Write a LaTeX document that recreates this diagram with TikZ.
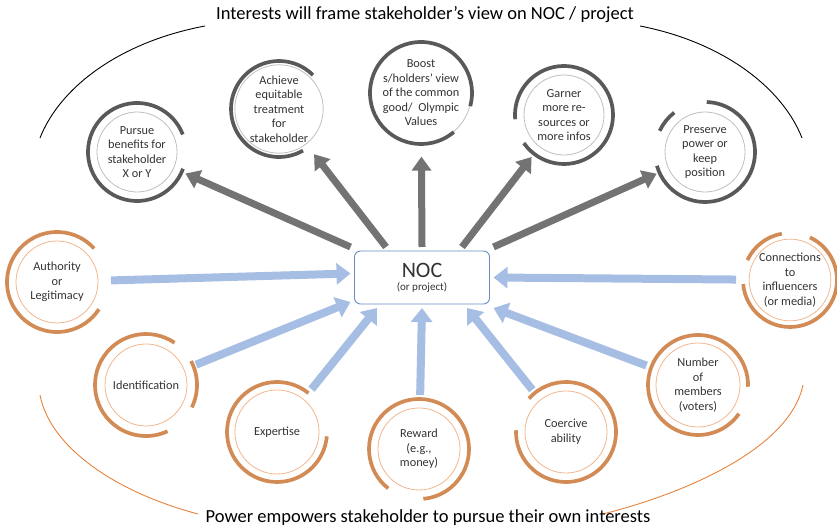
\documentclass[tikz,border=0pt]{standalone}
\usepackage{fontspec}
\setmainfont{Carlito}
\usetikzlibrary{arrows.meta,calc}
\definecolor{gdark}{HTML}{595959}
\definecolor{glight}{HTML}{BFBFBF}
\definecolor{garrowc}{HTML}{737373}
\definecolor{odark}{HTML}{D38B55}
\definecolor{olight}{HTML}{F2B58C}
\definecolor{barrowc}{HTML}{A6BEE3}
\definecolor{nocborder}{HTML}{6A8AC4}
\definecolor{txt}{HTML}{333333}
\definecolor{bigorange}{HTML}{E8823A}
\newcommand\myring[5]{\draw[#1] ($(#2)+(#3:#5)$) arc[start angle=#3, end angle=#4, radius=#5];}
\begin{document}
\begin{tikzpicture}[x=1pt,y=1pt,
  circtext/.style={circle, inner sep=0pt, outer sep=13pt, align=center, text=txt, font=\fontsize{12.3}{14.5}\selectfont, line width=0.8pt},
  gcirc/.style={circtext, draw=glight},
  ocirc/.style={circtext, draw=olight},
  gring/.style={draw=gdark, line width=3.7pt},
  oring/.style={draw=odark, line width=3.7pt},
  garrow/.style={draw=garrowc, line width=7pt, -{Triangle[width=19pt,length=14pt]}},
  barrow/.style={draw=barrowc, line width=8pt, -{Triangle[width=21pt,length=14pt]}},
  bigtext/.style={font=\fontsize{18.5}{22}\selectfont, text=black, inner sep=0pt},
]
\useasboundingbox (0,0) rectangle (837,532);

% big framing arcs
\draw[black, line width=0.9pt] (40,394) .. controls (60,445) and (120,490) .. (205,506);
\draw[black, line width=0.9pt] (640,506) .. controls (722,490) and (782,445) .. (802,394);
\draw[bigorange, line width=0.9pt] (40,137) .. controls (50,85) and (115,40) .. (198,18);
\draw[bigorange, line width=0.9pt] (603,18) .. controls (690,40) and (790,85) .. (803,147);

\node[bigtext] (title) at (425,517) {Interests will frame stakeholder’s view on NOC / project};
\node[bigtext] (bottom) at (428,14) {Power empowers stakeholder to pursue their own interests};

% NOC
\node[draw=nocborder, line width=0.9pt, rounded corners=6pt, minimum width=135pt, minimum height=53pt, outer sep=4pt, align=center, inner sep=0pt, text=txt] (noc) at (422,254.5)
  {{\fontsize{22}{24}\selectfont NOC}\\[1pt]{\fontsize{11}{13}\selectfont (or project)}};

% interest circles (gray)
\node[gcirc, minimum size=80pt] (pursue) at (137,380) {Pursue\\benefits for\\stakeholder\\X or Y};
\node[gcirc, minimum size=76pt] (achieve) at (279,423) {Achieve\\equitable\\treatment\\for\\stakeholder};
\node[gcirc, minimum size=88pt] (boost) at (421,439) {Boost\\s/holders’ view\\of the common\\good/\ \ Olympic\\Values};
\node[gcirc, minimum size=80pt] (garner) at (564,417) {Garner\\more re-\\sources or\\more infos};
\node[gcirc, minimum size=80pt] (preserve) at (705,380) {Preserve\\power or\\keep\\position};

\myring{gring}{pursue}{21}{340}{49}
\myring{gring}{achieve}{45}{300}{48}
\myring{gring}{boost}{-15}{310}{51}
\myring{gring}{garner}{215}{545}{49}
\myring{gring}{preserve}{196}{448}{50}
\myring{gring}{preserve}{128}{155}{50}

% power circles (orange)
\node[ocirc, minimum size=82pt] (authority) at (57,250) {Authority\\or\\Legitimacy};
\node[ocirc, minimum size=82pt] (ident) at (146,147) {Identification};
\node[ocirc, minimum size=84pt] (expert) at (277,100) {Expertise};
\node[ocirc, minimum size=82pt] (reward) at (419,83) {Reward\\(e.g.,\\money)};
\node[ocirc, minimum size=82pt] (coercive) at (566,100) {Coercive\\ability};
\node[ocirc, minimum size=84pt] (number) at (698,147) {Number\\of\\members\\(voters)};
\node[ocirc, minimum size=80pt] (connections) at (790,252) {Connections\\to\\influencers\\(or media)};

\myring{oring}{authority}{42}{327}{50}
\myring{oring}{ident}{56}{295}{51}
\myring{oring}{ident}{-26}{28}{51}
\myring{oring}{expert}{51}{355}{50}
\myring{oring}{reward}{275}{592}{50}
\myring{oring}{coercive}{178}{498}{50}
\myring{oring}{number}{-2}{325}{50}
\myring{oring}{connections}{100}{155}{47}
\myring{oring}{connections}{185}{425}{47}

% arrows NOC -> interests
\draw[garrow] (noc.north west) -- (pursue);
\draw[garrow] ([xshift=-36pt]noc.north) -- (achieve);
\draw[garrow] (noc.north) -- (boost);
\draw[garrow] ([xshift=40pt]noc.north) -- (garner);
\draw[garrow] (noc.north east) -- (preserve);

% arrows power -> NOC
\draw[barrow] (authority) -- ([yshift=4pt]noc.west);
\draw[barrow] (ident) -- ([yshift=6pt]noc.south west);
\draw[barrow] (expert) -- ([xshift=-45pt]noc.south);
\draw[barrow] (reward) -- (noc.south);
\draw[barrow] (coercive) -- ([xshift=45pt]noc.south);
\draw[barrow] (number) -- (noc.south east);
\draw[barrow] (connections) -- (noc.east);
\end{tikzpicture}
\end{document}
